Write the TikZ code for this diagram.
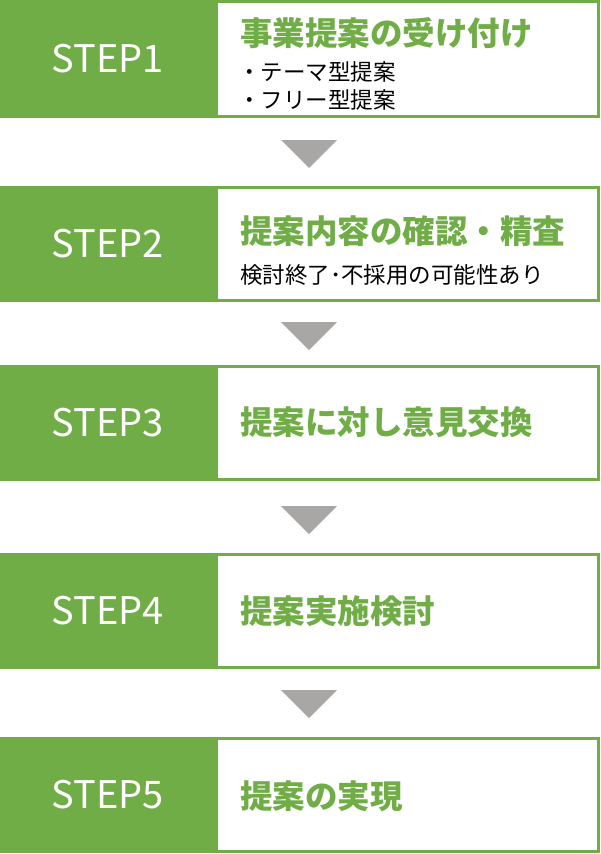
\documentclass[tikz,border=0pt]{standalone}
\usepackage{fontspec}
\setmainfont{Noto Sans CJK JP}
\usetikzlibrary{positioning}
\definecolor{stepgreen}{HTML}{70AD47}
\definecolor{arrowgray}{HTML}{A9A6A6}
\begin{document}
\begin{tikzpicture}[x=1pt,y=-1pt,
  steplabel/.style={text=white,font=\fontsize{38}{40}\selectfont},
  steptitle/.style={text=stepgreen,font=\bfseries\fontsize{32.5}{34}\selectfont,anchor=west,inner sep=0pt},
  stepnote/.style={font=\fontsize{22.5}{28}\selectfont,anchor=west,align=left,inner sep=0pt},
  downarrow/.style={fill=arrowgray}]
\useasboundingbox (0,0) rectangle (600,854);
% rows: top, bottom
\foreach \n/\t/\b in {1/0/118,2/186/302,3/365/481,4/553/669,5/737/853}{
  \fill[stepgreen] (0,\t) rectangle (600,\b);
  \fill[white] (218,\t+3) rectangle (597,\b-3);
  \node[steplabel] (step\n) at (108,{(\t+\b)/2}) {STEP\n};
}
% arrows
\foreach \t in {140,322,506,690}{
  \fill[downarrow] (281,\t) -- (337,\t) -- (309,\t+28) -- cycle;
}
\node[steptitle] (title1) at (240,33) {事業提案の受け付け};
\node[stepnote] (note1) at (238,86) {・テーマ型提案\\・フリー型提案};
\node[steptitle] (title2) at (240,231) {提案内容の確認・精査};
\node[stepnote] (note2) at (240,275) {検討終了･不採用の可能性あり};
\node[steptitle] (title3) at (240,422) {提案に対し意見交換};
\node[steptitle] (title4) at (240,611) {提案実施検討};
\node[steptitle] (title5) at (240,796) {提案の実現};
\end{tikzpicture}
\end{document}
